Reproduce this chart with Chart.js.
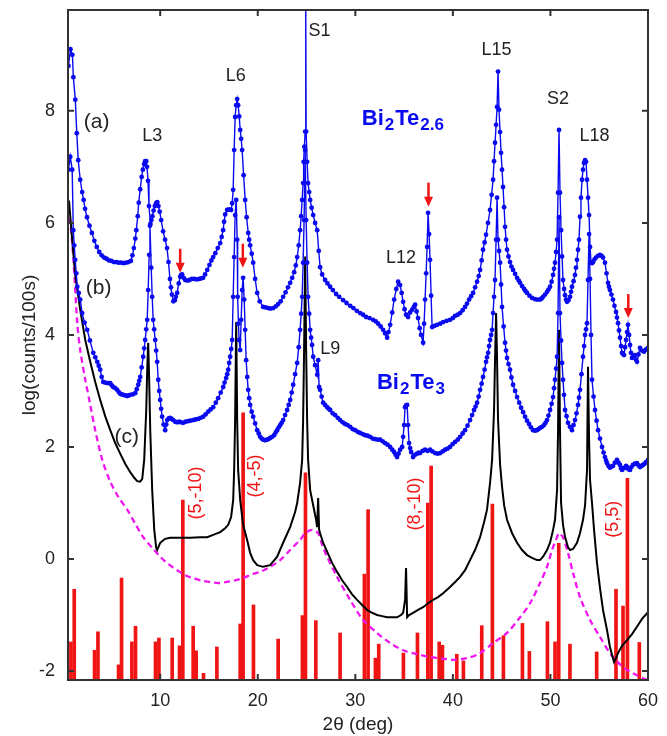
<!DOCTYPE html>
<html>
<head>
<meta charset="utf-8">
<script src="https://cdn.jsdelivr.net/npm/chart.js@4.4.1/dist/chart.umd.min.js"></script>
<style>
  html, body { margin: 0; background: #fff; }
</style>
</head>
<body>
<canvas id="xrd" width="667" height="736"></canvas>
<script>
// 2theta scan, log10 of counts per 100 s
const X_MIN = 0.55, X_MAX = 60, Y_MIN = -2.16, Y_MAX = 9.8
const xTickValues = [10, 20, 30, 40, 50, 60]
const yTickValues = [-2, 0, 2, 4, 6, 8]

// (a) Bi2Te2.6 measured
const scanA = [
  [0.6,8.8],[0.8,9.1],[1.0,9.0],[1.1,8.6],[1.3,8.2],[1.45,7.6],[1.6,7.12],[1.8,6.77],[2.0,6.55],[2.15,6.41],
  [2.3,6.25],[2.5,6.1],[2.75,5.95],[3.0,5.82],[3.25,5.68],[3.5,5.57],[3.75,5.48],[4.0,5.42],[4.25,5.38],[4.5,5.36],
  [4.75,5.33],[5.0,5.32],[5.25,5.3],[5.5,5.3],[5.75,5.29],[6.0,5.29],[6.25,5.28],[6.5,5.29],[6.75,5.3],[7.0,5.32],
  [7.15,5.42],[7.3,5.55],[7.45,5.72],[7.55,5.87],[7.7,6.12],[7.8,6.36],[7.95,6.6],[8.1,6.82],[8.22,6.95],[8.35,7.05],
  [8.46,7.1],[8.57,7.1],[8.65,7.0],[8.75,6.75],[8.85,6.3],[9.0,5.98],[9.1,6.05],[9.2,6.12],[9.32,6.22],[9.45,6.3],
  [9.58,6.35],[9.7,6.37],[9.82,6.3],[9.95,6.2],[10.1,6.05],[10.3,5.85],[10.5,5.7],[10.7,5.55],[10.85,5.3],[11.0,5.0],
  [11.1,4.85],[11.2,4.72],[11.35,4.6],[11.5,4.62],[11.6,4.68],[11.74,4.75],[11.9,4.92],[12.05,5.04],[12.15,5.07],[12.25,5.08],
  [12.4,5.02],[12.56,4.98],[12.8,4.97],[13.0,4.98],[13.25,5.0],[13.5,5.0],[13.75,4.99],[14.0,5.0],[14.2,5.01],[14.4,5.02],
  [14.6,5.08],[14.82,5.16],[15.05,5.25],[15.25,5.33],[15.43,5.39],[15.65,5.46],[15.9,5.55],[16.15,5.64],[16.3,5.75],[16.45,5.87],
  [16.55,6.02],[16.66,6.15],[16.86,6.23],[17.06,6.24],[17.27,6.23],[17.38,6.35],[17.48,6.59],[17.58,7.3],[17.68,7.89],[17.79,8.1],
  [17.89,8.21],[17.99,8.1],[18.1,7.9],[18.2,7.66],[18.3,7.5],[18.4,7.3],[18.55,6.85],[18.71,6.41],[18.86,6.1],[19.02,5.82],
  [19.12,5.7],[19.22,5.6],[19.38,5.45],[19.53,5.29],[19.73,5.0],[19.94,4.75],[20.2,4.6],[20.55,4.5],[20.8,4.49],[21.07,4.48],
  [21.3,4.47],[21.58,4.48],[21.85,4.51],[22.09,4.55],[22.35,4.6],[22.6,4.68],[22.85,4.76],[23.1,4.85],[23.32,4.93],[23.53,5.02],
  [23.73,5.12],[23.9,5.24],[24.04,5.39],[24.2,5.6],[24.34,5.87],[24.45,6.12],[24.55,6.41],[24.65,6.71],[24.7,7.09],[24.78,7.36],
  [24.86,7.63],[24.92,9.9],[24.96,7.63],[25.06,7.09],[25.16,6.71],[25.27,6.55],[25.37,6.41],[25.52,6.27],[25.68,6.14],[25.88,6.0],
  [26.09,5.87],[26.25,5.5],[26.39,5.21],[26.6,5.08],[26.9,4.98],[27.15,4.92],[27.42,4.86],[27.7,4.8],[28.03,4.73],[28.35,4.68],
  [28.75,4.62],[29.1,4.57],[29.47,4.52],[29.8,4.48],[30.15,4.43],[30.49,4.39],[30.8,4.36],[31.1,4.32],[31.45,4.3],[31.82,4.27],
  [32.1,4.24],[32.34,4.2],[32.6,4.15],[32.85,4.09],[33.05,4.03],[33.26,3.95],[33.4,4.05],[33.57,4.18],[33.78,4.4],[33.98,4.63],
  [34.2,4.82],[34.39,4.95],[34.59,4.89],[34.75,4.75],[34.9,4.59],[35.05,4.46],[35.2,4.36],[35.41,4.32],[35.62,4.4],[35.82,4.45],
  [36.0,4.5],[36.13,4.54],[36.28,4.42],[36.43,4.3],[36.6,4.12],[36.74,4.0],[36.95,3.86],[37.05,4.2],[37.15,4.63],[37.26,5.1],
  [37.36,5.57],[37.46,6.18],[37.56,5.8],[37.66,5.34],[37.77,4.7],[37.87,4.14],[38.1,4.16],[38.38,4.18],[38.7,4.2],[39.0,4.23],
  [39.35,4.25],[39.71,4.27],[40.0,4.3],[40.23,4.34],[40.5,4.36],[40.74,4.39],[41.0,4.44],[41.25,4.5],[41.45,4.56],[41.66,4.63],
  [41.87,4.69],[42.07,4.75],[42.28,4.85],[42.48,4.95],[42.65,5.05],[42.79,5.16],[42.95,5.33],[43.09,5.52],[43.25,5.65],[43.4,5.79],
  [43.6,6.0],[43.81,6.23],[43.97,6.5],[44.12,6.77],[44.22,7.1],[44.32,7.43],[44.43,7.75],[44.53,8.07],[44.63,8.7],[44.73,8.02],
  [44.84,7.62],[44.94,7.25],[45.04,6.95],[45.14,6.64],[45.25,6.28],[45.35,5.93],[45.45,5.7],[45.55,5.52],[45.7,5.4],[45.86,5.3],
  [46.0,5.22],[46.17,5.16],[46.38,5.09],[46.58,5.02],[46.75,4.97],[46.89,4.93],[47.1,4.87],[47.3,4.82],[47.45,4.78],[47.6,4.75],
  [47.85,4.7],[48.11,4.66],[48.4,4.64],[48.63,4.63],[48.93,4.63],[49.1,4.65],[49.24,4.68],[49.45,4.72],[49.65,4.77],[49.8,4.81],
  [49.96,4.86],[50.12,4.95],[50.27,5.07],[50.37,5.18],[50.47,5.29],[50.58,5.48],[50.68,5.7],[50.78,6.54],[50.88,7.66],[50.98,6.54],
  [51.09,5.87],[51.19,5.4],[51.29,4.98],[51.4,4.82],[51.5,4.71],[51.6,4.63],[51.7,4.59],[51.85,4.62],[52.01,4.68],[52.11,4.77],
  [52.21,4.86],[52.37,4.96],[52.52,5.07],[52.62,5.2],[52.72,5.34],[52.83,5.52],[52.93,5.7],[53.03,6.11],[53.13,6.45],[53.24,6.77],
  [53.34,6.95],[53.44,7.07],[53.55,7.12],[53.65,7.09],[53.75,6.77],[53.86,6.45],[53.96,6.14],[54.06,5.57],[54.16,5.3],[54.27,5.28],
  [54.37,5.3],[54.52,5.35],[54.67,5.38],[54.87,5.41],[55.08,5.43],[55.25,5.41],[55.39,5.38],[55.59,5.29],[55.75,5.1],[55.9,4.93],
  [56.0,4.86],[56.1,4.8],[56.25,4.72],[56.41,4.63],[56.56,4.52],[56.72,4.41],[56.82,4.31],[56.93,4.21],[57.03,4.08],[57.13,3.95],
  [57.24,3.8],[57.34,3.68],[57.44,3.66],[57.54,3.64],[57.65,3.78],[57.75,3.91],[57.85,4.05],[57.95,4.18],[58.06,4.0],[58.16,3.82],
  [58.26,3.68],[58.36,3.59],[58.5,3.62],[58.67,3.64],[58.77,3.56],[58.87,3.52],[59.02,3.65],[59.18,3.77],[59.38,3.72],[59.59,3.7],
  [59.8,3.74],[60.0,3.77]
]

// (b) Bi2Te3 measured
const scanB = [
  [0.6,6.95],[0.78,7.18],[0.98,6.95],[1.09,5.87],[1.19,5.6],[1.29,5.34],[1.4,5.1],[1.5,4.86],[1.65,4.75],[1.8,4.63],
  [2.0,4.39],[2.25,4.22],[2.52,4.09],[2.8,3.9],[3.14,3.68],[3.35,3.6],[3.55,3.52],[3.7,3.45],[3.85,3.38],[4.0,3.25],
  [4.16,3.16],[4.35,3.15],[4.57,3.14],[4.75,3.14],[4.88,3.14],[5.03,3.1],[5.18,3.07],[5.4,3.05],[5.59,3.02],[5.75,2.98],
  [5.9,2.95],[6.05,2.94],[6.21,2.93],[6.4,2.92],[6.62,2.91],[6.78,2.92],[6.93,2.93],[7.2,2.94],[7.44,2.96],[7.6,3.03],
  [7.75,3.11],[7.85,3.18],[7.95,3.25],[8.1,3.42],[8.26,3.61],[8.36,3.76],[8.46,3.91],[8.57,4.1],[8.67,4.27],[8.77,4.8],
  [8.87,5.43],[8.95,5.95],[9.08,5.2],[9.18,4.68],[9.28,4.27],[9.38,4.1],[9.49,3.91],[9.59,3.72],[9.69,3.52],[9.8,3.2],
  [9.9,3.0],[10.0,2.84],[10.1,2.68],[10.2,2.54],[10.35,2.4],[10.51,2.3],[10.62,2.4],[10.72,2.48],[10.87,2.51],[11.02,2.52],
  [11.17,2.5],[11.33,2.48],[11.54,2.45],[11.75,2.44],[11.95,2.45],[12.15,2.44],[12.36,2.43],[12.6,2.45],[12.87,2.46],[13.1,2.47],
  [13.38,2.48],[13.6,2.49],[13.89,2.5],[14.15,2.52],[14.41,2.54],[14.65,2.58],[14.92,2.63],[15.17,2.67],[15.43,2.71],[15.7,2.79],
  [15.94,2.87],[16.2,2.97],[16.46,3.07],[16.6,3.15],[16.76,3.23],[16.87,3.3],[16.97,3.38],[17.07,3.5],[17.17,3.61],[17.28,3.75],
  [17.38,3.91],[17.48,4.68],[17.58,5.39],[17.68,6.14],[17.79,6.41],[17.89,5.7],[17.94,4.68],[18.02,4.2],[18.09,3.91],[18.2,3.73],
  [18.3,4.27],[18.4,4.8],[18.5,5.02],[18.61,4.63],[18.71,4.09],[18.81,3.55],[18.92,3.25],[19.02,3.02],[19.12,2.87],[19.22,2.75],
  [19.38,2.63],[19.53,2.54],[19.73,2.42],[19.94,2.3],[20.1,2.24],[20.25,2.18],[20.4,2.15],[20.55,2.13],[20.75,2.12],[20.96,2.13],
  [21.1,2.14],[21.27,2.16],[21.48,2.18],[21.68,2.21],[21.84,2.26],[21.99,2.3],[22.15,2.35],[22.3,2.39],[22.45,2.43],[22.6,2.48],
  [22.8,2.57],[23.01,2.66],[23.17,2.75],[23.32,2.84],[23.48,2.97],[23.63,3.11],[23.83,3.3],[24.04,3.5],[24.2,3.78],[24.34,4.09],
  [24.45,4.38],[24.55,4.68],[24.65,5.29],[24.75,6.05],[24.86,7.3],[24.96,6.05],[25.06,5.29],[25.16,4.68],[25.27,4.38],[25.37,4.09],
  [25.47,3.95],[25.57,3.82],[25.68,3.61],[25.88,3.46],[26.09,3.29],[26.19,3.55],[26.29,3.07],[26.39,3.02],[26.55,2.9],[26.7,2.79],
  [26.9,2.75],[27.11,2.71],[27.27,2.68],[27.42,2.66],[27.68,2.6],[27.93,2.57],[28.2,2.52],[28.44,2.48],[28.7,2.44],[28.95,2.41],
  [29.2,2.39],[29.47,2.36],[29.72,2.32],[29.98,2.3],[30.25,2.27],[30.49,2.25],[30.75,2.23],[31.0,2.21],[31.25,2.2],[31.52,2.18],
  [31.78,2.15],[32.03,2.14],[32.3,2.13],[32.54,2.13],[32.8,2.1],[33.05,2.07],[33.3,2.04],[33.57,2.0],[33.78,1.95],[33.98,1.91],
  [34.13,1.86],[34.28,1.82],[34.43,1.88],[34.59,1.95],[34.8,2.0],[34.9,2.18],[35.0,2.39],[35.1,2.71],[35.2,2.74],[35.31,2.75],
  [35.41,2.39],[35.51,2.07],[35.62,1.98],[35.72,1.91],[35.92,1.82],[36.12,1.86],[36.33,1.88],[36.5,1.9],[36.64,1.89],[36.9,1.93],
  [37.15,1.95],[37.4,1.93],[37.66,1.95],[37.9,1.92],[38.18,1.89],[38.45,1.88],[38.69,1.89],[38.95,1.92],[39.2,1.95],[39.45,1.97],
  [39.71,2.0],[39.97,2.05],[40.23,2.09],[40.5,2.13],[40.74,2.18],[41.0,2.24],[41.25,2.3],[41.5,2.38],[41.76,2.48],[41.97,2.57],
  [42.17,2.66],[42.33,2.72],[42.48,2.79],[42.64,2.9],[42.79,3.02],[42.95,3.13],[43.09,3.25],[43.25,3.38],[43.4,3.52],[43.5,3.6],
  [43.61,3.68],[43.71,3.8],[43.81,3.91],[43.92,4.0],[44.02,4.09],[44.12,4.39],[44.22,4.68],[44.32,4.98],[44.43,5.7],[44.53,6.45],
  [44.63,5.7],[44.74,5.5],[44.84,5.29],[44.94,4.9],[45.04,4.5],[45.2,4.15],[45.35,3.86],[45.45,3.72],[45.55,3.59],[45.7,3.48],
  [45.86,3.38],[46.0,3.24],[46.17,3.11],[46.38,3.0],[46.58,2.89],[46.8,2.79],[46.99,2.7],[47.2,2.62],[47.4,2.54],[47.6,2.47],
  [47.81,2.41],[48.0,2.35],[48.22,2.3],[48.42,2.29],[48.63,2.3],[48.78,2.32],[48.93,2.34],[49.14,2.36],[49.34,2.39],[49.5,2.43],
  [49.65,2.48],[49.8,2.56],[49.96,2.66],[50.12,2.77],[50.27,2.89],[50.37,3.05],[50.47,3.2],[50.58,3.4],[50.68,3.61],[50.78,4.39],
  [50.88,6.1],[50.98,4.39],[51.09,3.9],[51.19,3.5],[51.29,3.2],[51.39,2.93],[51.5,2.66],[51.65,2.55],[51.8,2.43],[52.0,2.36],
  [52.21,2.3],[52.37,2.39],[52.52,2.48],[52.67,2.6],[52.83,2.75],[52.93,2.88],[53.03,3.02],[53.18,3.3],[53.34,3.61],[53.45,3.8],
  [53.55,4.0],[53.65,4.1],[53.75,4.21],[53.85,4.98],[53.96,5.8],[54.06,5.0],[54.16,4.0],[54.26,3.2],[54.42,2.9],[54.57,2.66],
  [54.73,2.47],[54.88,2.3],[55.08,2.15],[55.29,2.0],[55.45,1.9],[55.59,1.82],[55.7,1.76],[55.8,1.71],[55.95,1.66],[56.1,1.63],
  [56.25,1.65],[56.41,1.66],[56.6,1.72],[56.82,1.77],[56.98,1.72],[57.13,1.68],[57.24,1.62],[57.34,1.59],[57.5,1.62],[57.64,1.63],
  [57.75,1.66],[57.85,1.64],[58.0,1.6],[58.16,1.59],[58.3,1.64],[58.46,1.68],[58.66,1.7],[58.87,1.71],[59.03,1.67],[59.18,1.64],
  [59.34,1.66],[59.49,1.68],[59.65,1.7],[59.8,1.73],[60.0,1.77]
]

// (c) calculated profile
const calcC = [
  [0.65,6.4],[0.98,5.7],[1.29,5.07],[1.8,4.45],[2.32,3.91],[2.83,3.52],[3.34,3.16],[3.85,2.84],[4.36,2.55],[4.88,2.3],
  [5.39,2.07],[5.9,1.88],[6.41,1.7],[6.93,1.55],[7.34,1.45],[7.64,1.39],[7.95,1.38],[8.16,1.43],[8.36,1.77],[8.57,2.66],
  [8.67,3.38],[8.77,3.86],[8.87,3.2],[8.98,2.3],[9.18,1.23],[9.39,0.52],[9.59,0.2],[9.69,0.16],[10.0,0.29],
  [10.51,0.36],[11.02,0.38],[12.05,0.38],[13.07,0.38],[14.1,0.39],[14.82,0.39],[15.43,0.43],[16.15,0.48],[16.66,0.55],[16.97,0.61],
  [17.27,0.75],[17.48,1.05],[17.58,1.59],[17.68,2.48],[17.79,4.23],[17.89,2.48],[17.99,1.59],[18.2,1.05],[18.5,0.61],[18.91,0.34],
  [19.22,0.11],[19.53,-0.02],[19.94,-0.11],[20.55,-0.14],[21.27,-0.11],[21.99,0.04],[22.6,0.29],[23.32,0.57],[23.83,0.84],[24.04,1.0],
  [24.34,1.36],[24.55,1.77],[24.65,2.48],[24.75,3.73],[24.86,5.4],[24.96,3.73],[25.06,2.48],[25.16,1.77],[25.37,1.23],[25.68,0.96],
  [25.98,0.7],[26.09,0.57],[26.19,1.09],[26.29,0.52],[26.39,0.46],[26.7,0.29],[27.11,0.13],[27.62,-0.07],[28.13,-0.23],[28.65,-0.38],
  [29.16,-0.5],[29.67,-0.63],[30.18,-0.73],[30.7,-0.82],[31.21,-0.91],[31.72,-0.96],[32.23,-1.0],[32.75,-1.02],[33.26,-1.04],[33.77,-1.04],
  [34.28,-1.04],[34.69,-1.0],[34.9,-0.96],[35.1,-0.73],[35.2,-0.16],[35.31,-1.04],[35.51,-1.0],[35.92,-0.96],[36.43,-0.91],[36.95,-0.86],
  [37.46,-0.79],[37.97,-0.73],[38.48,-0.68],[39.0,-0.61],[39.71,-0.5],[40.23,-0.41],[40.74,-0.32],[41.25,-0.2],[41.76,-0.02],[42.27,0.16],
  [42.79,0.39],[43.2,0.66],[43.5,0.88],[43.81,1.36],[44.02,1.77],[44.22,2.66],[44.32,3.55],[44.43,4.39],[44.53,3.55],[44.63,2.48],
  [44.84,1.68],[45.04,1.29],[45.25,0.96],[45.55,0.7],[46.07,0.46],[46.58,0.29],[47.09,0.16],[47.6,0.07],[48.11,0.02],[48.63,-0.02],
  [48.93,-0.02],[49.24,0.04],[49.65,0.16],[49.96,0.29],[50.27,0.52],[50.47,0.7],[50.68,1.23],[50.78,2.3],[50.88,4.09],[50.98,2.3],
  [51.09,1.0],[51.29,0.61],[51.5,0.39],[51.8,0.21],[52.01,0.16],[52.32,0.18],[52.72,0.29],[53.03,0.46],[53.34,0.7],[53.55,0.96],
  [53.75,1.59],[53.85,3.43],[53.96,2.13],[54.06,1.41],[54.26,1.0],[54.47,0.52],[54.77,-0.07],[55.08,-0.52],[55.39,-0.91],[55.8,-1.27],
  [56.1,-1.57],[56.31,-1.71],[56.52,-1.84],[56.72,-1.77],[56.93,-1.68],[57.34,-1.55],[57.85,-1.45],[58.36,-1.34],[58.87,-1.21],[59.39,-1.07],
  [60.0,-0.95]
]

// diffuse background (dashed)
const background = [
  [0.57,6.09],[0.78,6.0],[1.09,5.39],[1.5,4.21],[1.8,3.73],[2.32,3.2],[2.83,2.75],[3.34,2.3],[4.06,1.77],[4.88,1.38],
  [5.7,1.11],[6.62,0.88],[7.44,0.63],[8.26,0.39],[9.18,0.2],[10.0,0.04],[10.82,-0.09],[11.74,-0.2],[12.56,-0.29],[13.38,-0.34],
  [14.3,-0.39],[15.12,-0.41],[15.94,-0.43],[16.86,-0.41],[17.68,-0.38],[18.5,-0.34],[19.43,-0.27],[20.25,-0.23],[21.27,-0.14],[22.3,-0.02],
  [23.32,0.16],[24.34,0.34],[24.86,0.46],[25.57,0.52],[26.19,0.46],[26.6,0.25],[27.11,0.04],[28.13,-0.32],[29.47,-0.73],[30.8,-1.09],
  [32.23,-1.32],[33.57,-1.5],[34.9,-1.63],[36.33,-1.7],[37.66,-1.75],[38.69,-1.77],[40.02,-1.8],[41.45,-1.77],[42.79,-1.68],[44.12,-1.5],
  [45.55,-1.32],[46.89,-1.04],[47.91,-0.79],[48.93,-0.43],[49.65,-0.14],[50.16,0.16],[50.68,0.39],[50.88,0.46],[51.09,0.43],[51.29,0.39],
  [51.8,0.11],[52.32,-0.25],[53.03,-0.68],[54.06,-1.09],[55.08,-1.39],[56.1,-1.68],[57.44,-1.93],[58.46,-2.04],[59.49,-2.13],[60.0,-2.16]
]

// stick pattern: position, top of stick
const sticks = [
  [0.85,-1.48],[1.19,-0.54],[3.27,-1.63],[3.62,-1.3],[5.73,-1.89],[6.04,-0.34],[7.1,-1.48],[7.47,-1.2],[9.52,-1.48],[9.87,-1.41],
  [11.23,-1.41],[11.98,-1.55],[12.32,1.05],[13.38,-1.2],[13.69,-1.64],[14.44,-2.04],[15.81,-1.57],[18.2,-1.16],[18.5,2.61],[19.56,-0.82],
  [22.09,-1.43],[24.58,-1.01],[24.89,1.54],[25.95,-1.1],[28.44,-1.32],[30.93,-0.27],[31.31,0.88],[32.06,-1.77],[32.4,-1.52],[34.93,-1.68],
  [36.37,-1.32],[37.43,1.0],[37.77,1.66],[38.6,-1.48],[38.93,-1.54],[40.4,-1.7],[41.08,-1.82],[42.96,-1.19],[44.05,0.98],[45.18,-1.37],
  [47.13,-1.15],[47.84,-1.65],[49.69,-1.12],[50.47,-1.48],[50.85,0.28],[52.0,-1.52],[54.74,-1.66],[56.72,-0.54],[57.44,-0.84],[57.89,1.44],
  [59.11,-1.49]
]

// annotations
const peakNames = [['L3',9.18,7.55],['L6',17.74,8.62],['S1',26.34,9.43],['L12',34.69,5.38],['L15',44.48,9.09],
  ['S2',50.78,8.21],['L18',54.52,7.55],['L9',27.42,3.75]]
const curveTags = [['(a)',3.49,7.79],['(b)',3.69,4.84],['(c)',6.57,2.18]]
const stickNotes = [['(5,-10)',13.63,1.18],['(4,-5)',19.73,1.48],['(8,-10)',36.13,0.98],['(5,5)',56.45,0.71]]
const arrowTips = [[12.05,5.11],[18.47,5.2],[37.5,6.29],[57.98,4.3]]
const formulas = [
  {parts: [['Bi',0],['2',1],['Te',0],['2.6',1]], x: 30.66, y: 7.75},
  {parts: [['Bi',0],['2',1],['Te',0],['3',1]], x: 32.22, y: 3.03}
]

const BLUE = '#0a0af0', RED = '#f01414', MAGENTA = '#f014f0', INK = '#222'
const FONT = '"Liberation Sans", Arial, sans-serif'
const toXY = rows => rows.map(([x, y]) => ({x, y}))

const overlay = {
  id: 'overlay',
  afterDraw(chart){
    const {ctx, chartArea: a, scales: {x, y}} = chart
    ctx.save()
    ctx.strokeStyle = '#333'
    ctx.lineWidth = 2
    ctx.strokeRect(a.left, a.top, a.right - a.left, a.bottom - a.top)
    // ticks point into the plot on all four sides
    ctx.beginPath()
    xTickValues.forEach(v => {
      const px = x.getPixelForValue(v)
      ctx.moveTo(px, a.bottom); ctx.lineTo(px, a.bottom - 6)
      ctx.moveTo(px, a.top); ctx.lineTo(px, a.top + 6)
    })
    yTickValues.forEach(v => {
      const py = y.getPixelForValue(v)
      ctx.moveTo(a.left, py); ctx.lineTo(a.left + 6, py)
      ctx.moveTo(a.right, py); ctx.lineTo(a.right - 6, py)
    })
    ctx.stroke()

    ctx.textAlign = 'center'
    ctx.textBaseline = 'middle'
    ctx.fillStyle = INK
    ctx.font = `18px ${FONT}`
    peakNames.forEach(([t, vx, vy]) => ctx.fillText(t, x.getPixelForValue(vx), y.getPixelForValue(vy)))
    ctx.font = `21px ${FONT}`
    curveTags.forEach(([t, vx, vy]) => ctx.fillText(t, x.getPixelForValue(vx), y.getPixelForValue(vy)))

    ctx.fillStyle = RED
    ctx.font = `18px ${FONT}`
    stickNotes.forEach(([t, vx, vy]) => {
      ctx.save()
      ctx.translate(x.getPixelForValue(vx), y.getPixelForValue(vy))
      ctx.rotate(-Math.PI / 2)
      ctx.fillText(t, 0, 0)
      ctx.restore()
    })

    ctx.strokeStyle = RED
    ctx.lineWidth = 2.5
    arrowTips.forEach(([vx, vy]) => {
      const px = x.getPixelForValue(vx), py = y.getPixelForValue(vy)
      ctx.beginPath()
      ctx.moveTo(px, py - 24); ctx.lineTo(px, py - 8)
      ctx.stroke()
      ctx.beginPath()
      ctx.moveTo(px - 4.5, py - 10); ctx.lineTo(px + 4.5, py - 10); ctx.lineTo(px, py)
      ctx.closePath()
      ctx.fill()
    })

    ctx.fillStyle = BLUE
    ctx.textAlign = 'left'
    ctx.textBaseline = 'alphabetic'
    formulas.forEach(f => {
      let cx = x.getPixelForValue(f.x)
      const base = y.getPixelForValue(f.y)
      f.parts.forEach(([t, sub]) => {
        ctx.font = `bold ${sub ? 17 : 22}px ${FONT}`
        ctx.fillText(t, cx, sub ? base + 5 : base)
        cx += ctx.measureText(t).width + 1
      })
    })
    ctx.restore()
  }
}

const measured = (rows) => ({
  data: toXY(rows),
  borderColor: BLUE,
  backgroundColor: BLUE,
  borderWidth: 1.4,
  pointRadius: 2.4,
  pointBorderWidth: 0,
  pointBackgroundColor: BLUE,
  tension: 0
})

// keep the plot box fixed: no extra room reserved for end labels
const noEdgePadding = s => { s.paddingTop = 0; s.paddingBottom = 0; s.paddingLeft = 0; s.paddingRight = 0 }

new Chart(document.getElementById('xrd'), {
  type: 'line',
  data: {
    datasets: [
      measured(scanA),
      measured(scanB),
      {data: toXY(calcC), borderColor: '#000', borderWidth: 2, pointRadius: 0, tension: 0},
      {data: toXY(background), borderColor: MAGENTA, borderWidth: 2.3, borderDash: [6, 4], pointRadius: 0, tension: 0.3},
      {type: 'bar', data: toXY(sticks), backgroundColor: RED, barThickness: 3, base: Y_MIN, grouped: false}
    ]
  },
  options: {
    responsive: false,
    devicePixelRatio: 1,
    animation: false,
    layout: {padding: {top: 10, right: 19, left: 0, bottom: 0}},
    plugins: {legend: {display: false}, tooltip: {enabled: false}},
    scales: {
      x: {
        type: 'linear', min: X_MIN, max: X_MAX, offset: false,
        grid: {display: false, drawTicks: false},
        border: {display: false},
        afterBuildTicks: s => { s.ticks = xTickValues.map(v => ({value: v})) },
        afterFit: s => { s.height = 56; noEdgePadding(s) },
        ticks: {padding: 10, color: INK, font: {family: FONT, size: 18}, maxRotation: 0},
        title: {display: true, text: '2θ (deg)', color: INK, font: {family: FONT, size: 19}, padding: {top: 0, bottom: 0}}
      },
      y: {
        type: 'linear', min: Y_MIN, max: Y_MAX,
        grid: {display: false, drawTicks: false},
        border: {display: false},
        afterBuildTicks: s => { s.ticks = yTickValues.map(v => ({value: v})) },
        afterFit: s => { s.width = 68; noEdgePadding(s) },
        ticks: {padding: 13, color: INK, font: {family: FONT, size: 18}},
        title: {display: true, text: 'log(counts/100s)', color: INK, font: {family: FONT, size: 19}, padding: {top: 18, bottom: 0}}
      }
    }
  },
  plugins: [overlay]
})
</script>
</body>
</html>
